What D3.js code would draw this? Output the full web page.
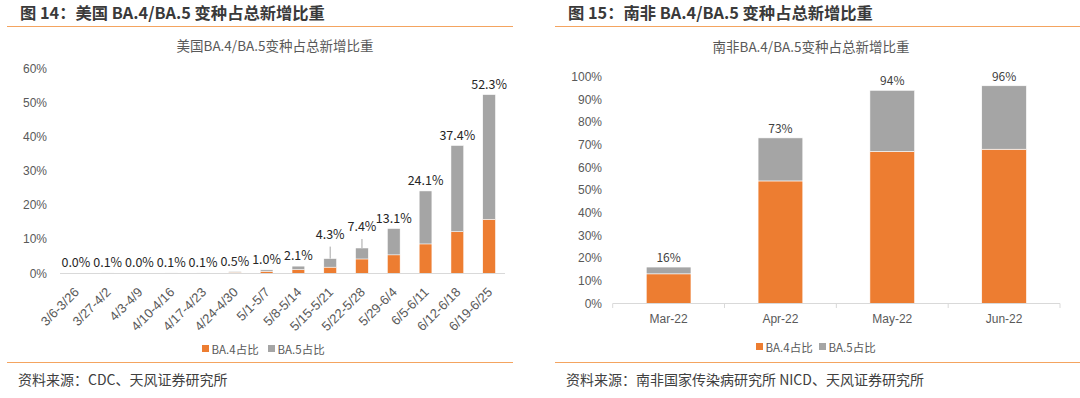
<!DOCTYPE html>
<html>
<head>
<meta charset="utf-8">
<script src="https://cdn.jsdelivr.net/npm/d3@7"></script>
<style>
  body { margin: 0; background: #fff; }
  svg { display: block; font-family: "Noto Sans CJK SC", "Noto Sans", sans-serif; }
</style>
</head>
<body>
<svg width="1080" height="398"></svg>
<script>
// US weekly share (%)
var usWeeks = ["3/6-3/26", "3/27-4/2", "4/3-4/9", "4/10-4/16", "4/17-4/23", "4/24-4/30", "5/1-5/7",
               "5/8-5/14", "5/15-5/21", "5/22-5/28", "5/29-6/4", "6/5-6/11", "6/12-6/18", "6/19-6/25"];
var usBA4 = [0, 0.05, 0, 0.05, 0.05, 0.3, 0.6, 1.1, 1.8, 4.2, 5.4, 8.6, 12.2, 15.8];
var usBA5 = [0, 0.05, 0, 0.05, 0.05, 0.2, 0.4, 1.0, 2.5, 3.2, 7.7, 15.5, 25.2, 36.5];
var usTotal = [0.0, 0.1, 0.0, 0.1, 0.1, 0.5, 1.0, 2.1, 4.3, 7.4, 13.1, 24.1, 37.4, 52.3];
var usTicks = [0, 10, 20, 30, 40, 50, 60];
var liftedLabels = ["5/15-5/21", "5/22-5/28"];

// South Africa monthly share (%)
var zaMonths = ["Mar-22", "Apr-22", "May-22", "Jun-22"];
var zaBA4 = [13, 54, 67, 68];
var zaBA5 = [3, 19, 27, 28];
var zaTotal = [16, 73, 94, 96];
var zaTicks = [0, 10, 20, 30, 40, 50, 60, 70, 80, 90, 100];

var seriesNames = ["BA.4占比", "BA.5占比"];
var colors = ["#ED7D31", "#A5A5A5"];

var svg = d3.select("svg");

function frame(x0, x1, heading, source) {
  svg.append("text").attr("x", x0 + 13).attr("y", 19)
    .attr("font-size", 16.3).attr("font-weight", "bold").attr("fill", "#3a3a3a")
    .text(heading);
  svg.append("line").attr("x1", x0).attr("x2", x1).attr("y1", 26.5).attr("y2", 26.5)
    .attr("stroke", "#F4A460").attr("stroke-width", 1.2);
  svg.append("line").attr("x1", x0).attr("x2", x1).attr("y1", 362.5).attr("y2", 362.5)
    .attr("stroke", "#F4A460").attr("stroke-width", 1.2);
  svg.append("text").attr("x", x0 + 11).attr("y", 385)
    .attr("font-size", 14).attr("fill", "#404040")
    .text(source);
}

function legend(x, y, gap) {
  var g = svg.append("g").attr("transform", "translate(" + x + "," + y + ")");
  var item = g.selectAll("g").data(seriesNames).enter().append("g")
    .attr("transform", function(d, i) { return "translate(" + (i * gap) + ",0)"; });
  item.append("rect").attr("x", 0).attr("y", -4).attr("width", 7).attr("height", 7)
    .attr("fill", function(d, i) { return colors[i]; });
  item.append("text").attr("x", 9.5).attr("y", 4.5)
    .attr("font-size", 11.5).attr("fill", "#595959")
    .text(function(d) { return d; });
}

// ---------- left: US ----------
frame(7, 513, "图 14：美国 BA.4/BA.5 变种占总新增比重", "资料来源：CDC、天风证券研究所");
svg.append("text").attr("x", 275).attr("y", 51).attr("text-anchor", "middle")
  .attr("font-size", 13.5).attr("fill", "#595959").text("美国BA.4/BA.5变种占总新增比重");

var xUS = d3.scaleBand().domain(usWeeks).range([60, 505]).paddingInner(0.6).paddingOuter(0.3);
var yUS = d3.scaleLinear().domain([0, 60]).range([273.3, 68.3]);

var gUS = svg.append("g");
gUS.append("g")
  .attr("transform", "translate(50,0)")
  .call(d3.axisLeft(yUS).tickValues(usTicks).tickFormat(function(d) { return d + "%"; }).tickSize(0).tickPadding(3))
  .call(function(g) { g.select(".domain").remove(); })
  .selectAll("text").attr("font-size", 12).attr("fill", "#595959").attr("font-family", null);

var stackUS = usWeeks.map(function(w, i) {
  return [[0, usBA4[i]], [usBA4[i], usBA4[i] + usBA5[i]]];
});
usWeeks.forEach(function(w, i) {
  stackUS[i].forEach(function(s, k) {
    gUS.append("rect")
      .attr("x", xUS(w)).attr("width", xUS.bandwidth())
      .attr("y", yUS(s[1])).attr("height", Math.max(0, yUS(s[0]) - yUS(s[1])))
      .attr("fill", colors[k]).attr("stroke", "#fff").attr("stroke-width", 0.5);
  });
});

gUS.append("line").attr("x1", 60).attr("x2", 505).attr("y1", 273.5).attr("y2", 273.5)
  .attr("stroke", "#D9D9D9").attr("stroke-width", 1);

usWeeks.forEach(function(w, i) {
  var cx = xUS(w) + xUS.bandwidth() / 2;
  var top = yUS(usBA4[i] + usBA5[i]);
  var by = top - 6;
  if (liftedLabels.indexOf(w) >= 0) {
    var lift = usTotal[i] < 5 ? 12 : 9;
    by = top - lift - 8;
    gUS.append("line").attr("x1", cx).attr("x2", cx).attr("y1", top).attr("y2", top - lift)
      .attr("stroke", "#A5A5A5").attr("stroke-width", 1);
  }
  gUS.append("text").attr("x", cx).attr("y", by).attr("text-anchor", "middle")
    .attr("font-size", 12.5).attr("fill", "#262626")
    .text(usTotal[i].toFixed(1) + "%");
});

var xAxisUS = gUS.append("g").attr("transform", "translate(0,273)")
  .call(d3.axisBottom(xUS).tickSize(0).tickPadding(0));
xAxisUS.select(".domain").remove();
xAxisUS.selectAll("text")
  .attr("font-size", 13).attr("fill", "#595959").attr("font-family", null)
  .attr("text-anchor", "end").attr("dy", null).attr("y", 0)
  .attr("transform", "translate(4,20) rotate(-45)");

legend(202, 349, 66);

// ---------- right: South Africa ----------
frame(555, 1080, "图 15：南非 BA.4/BA.5 变种占总新增比重", "资料来源：南非国家传染病研究所 NICD、天风证券研究所");
svg.append("text").attr("x", 811).attr("y", 52).attr("text-anchor", "middle")
  .attr("font-size", 13.5).attr("fill", "#595959").text("南非BA.4/BA.5变种占总新增比重");

var xZA = d3.scaleBand().domain(zaMonths).range([612.7, 1060]).paddingInner(0.6).paddingOuter(0.3);
var yZA = d3.scaleLinear().domain([0, 100]).range([303.3, 76.7]);

var gZA = svg.append("g");
gZA.append("g")
  .attr("transform", "translate(602,0)")
  .call(d3.axisLeft(yZA).tickValues(zaTicks).tickFormat(function(d) { return d + "%"; }).tickSize(0).tickPadding(0))
  .call(function(g) { g.select(".domain").remove(); })
  .selectAll("text").attr("font-size", 12).attr("fill", "#595959").attr("font-family", null);

zaMonths.forEach(function(m, i) {
  var parts = [[0, zaBA4[i]], [zaBA4[i], zaBA4[i] + zaBA5[i]]];
  parts.forEach(function(s, k) {
    gZA.append("rect")
      .attr("x", xZA(m)).attr("width", xZA.bandwidth())
      .attr("y", yZA(s[1])).attr("height", yZA(s[0]) - yZA(s[1]))
      .attr("fill", colors[k]).attr("stroke", "#fff").attr("stroke-width", 0.6);
  });
  gZA.append("text").attr("x", xZA(m) + xZA.bandwidth() / 2).attr("y", yZA(zaTotal[i]) - 5)
    .attr("text-anchor", "middle").attr("font-size", 12).attr("fill", "#404040")
    .text(zaTotal[i] + "%");
});

// category axis with boundary ticks
var bounds = zaMonths.map(function(m) { return xZA(m) - xZA.step() * xZA.paddingInner() / 2; });
bounds.push(1060);
gZA.append("line").attr("x1", 612.7).attr("x2", 1060).attr("y1", 303.5).attr("y2", 303.5)
  .attr("stroke", "#D9D9D9");
gZA.selectAll(".btick").data(bounds).enter().append("line")
  .attr("x1", function(d) { return d; }).attr("x2", function(d) { return d; })
  .attr("y1", 303.5).attr("y2", 308).attr("stroke", "#D9D9D9");
var xAxisZA = gZA.append("g").attr("transform", "translate(0,303)")
  .call(d3.axisBottom(xZA).tickSize(0).tickPadding(11));
xAxisZA.select(".domain").remove();
xAxisZA.selectAll("text").attr("font-size", 12).attr("fill", "#595959").attr("font-family", null);

legend(756, 347, 63);
</script>
</body>
</html>
